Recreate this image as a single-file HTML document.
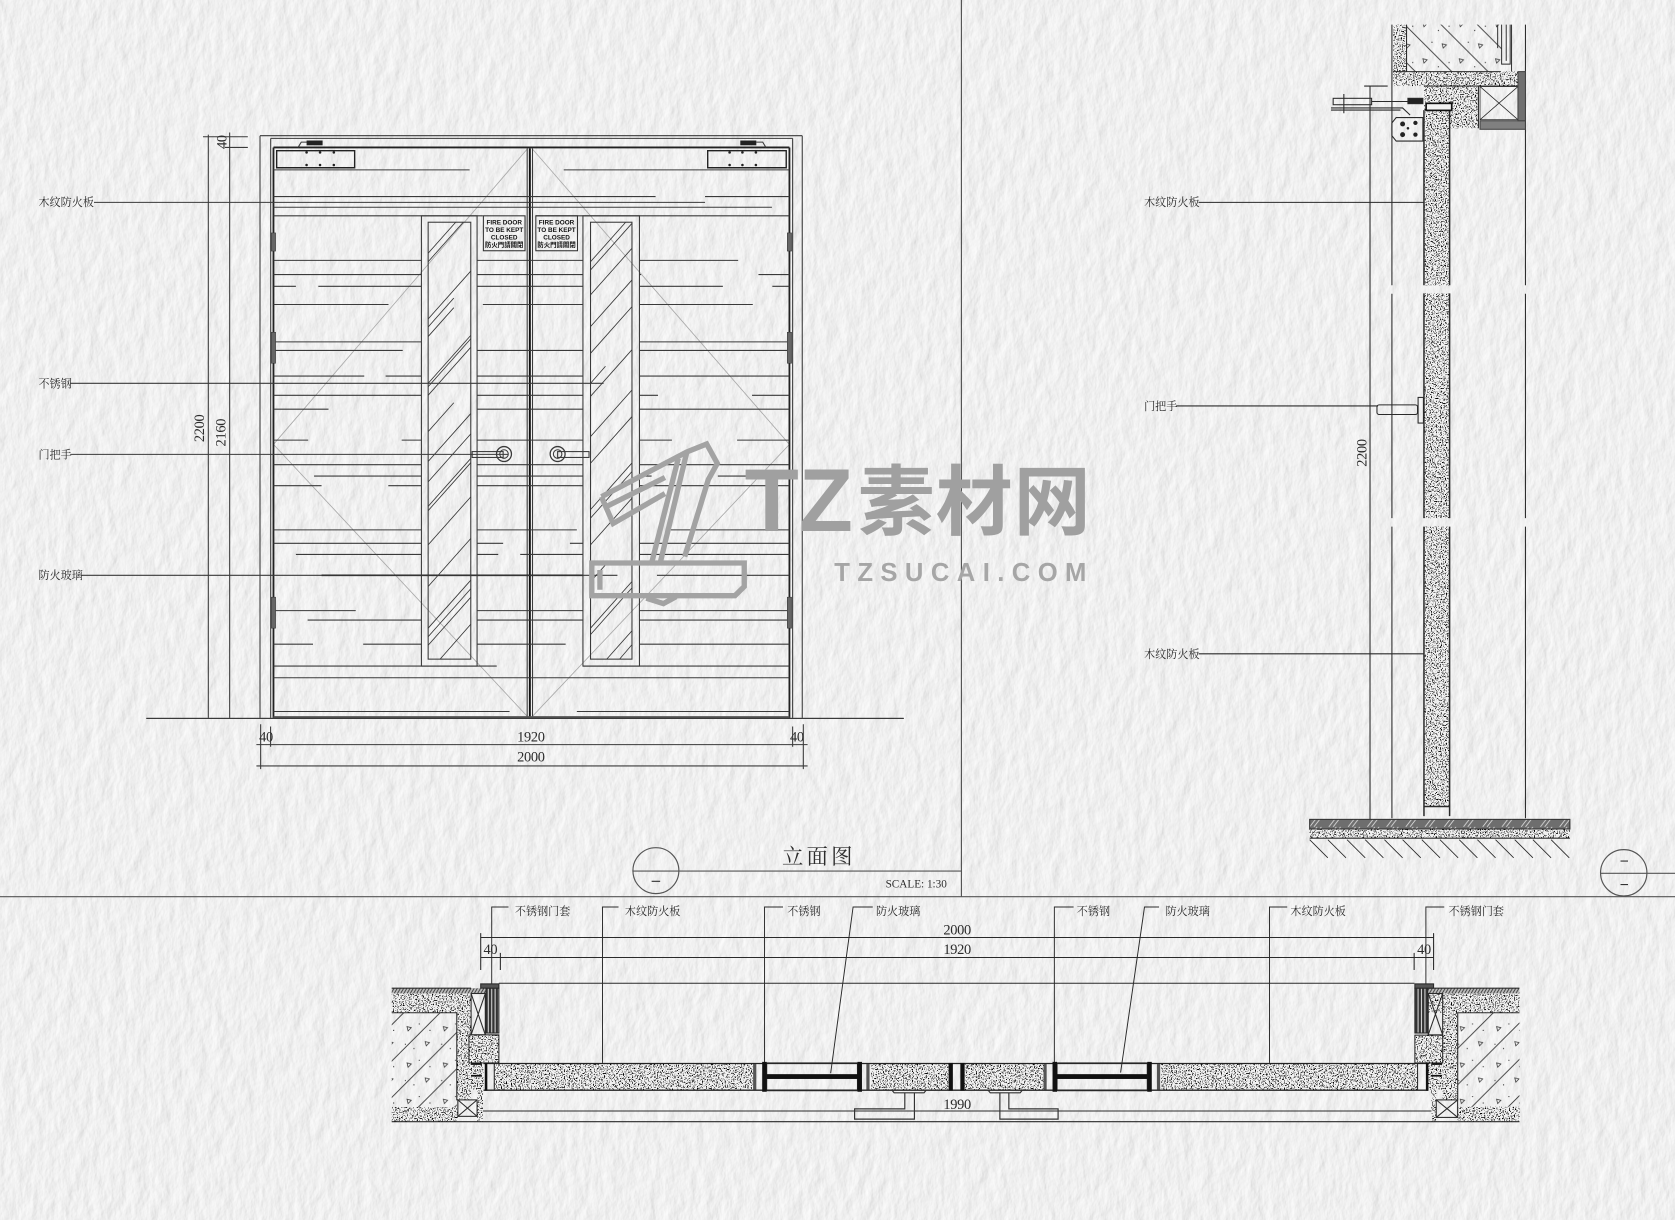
<!DOCTYPE html>
<html><head><meta charset="utf-8"><title>立面图</title>
<style>
html,body{margin:0;padding:0;background:#eee}
svg{display:block}
text{font-family:"Liberation Serif","Noto Serif CJK SC",serif;fill:#2c2c2c}
.n{font-size:13.5px;text-anchor:middle;letter-spacing:-.3px}
.l{font-size:10.4px}
</style></head><body>
<svg xmlns="http://www.w3.org/2000/svg" width="1675" height="1220" viewBox="0 0 1568 1142">
<defs>
<filter id="paper" x="0" y="0" width="100%" height="100%" color-interpolation-filters="sRGB">
<feTurbulence type="fractalNoise" baseFrequency="0.09 0.05" numOctaves="4" seed="7"/>
<feDiffuseLighting surfaceScale="0.55" lighting-color="#ffffff"><feDistantLight azimuth="20" elevation="70"/></feDiffuseLighting>
</filter>
<filter id="speck" filterUnits="userSpaceOnUse" x="0" y="0" width="1568" height="1142" color-interpolation-filters="sRGB">
<feTurbulence type="fractalNoise" baseFrequency="0.85" numOctaves="2" seed="4"/>
<feColorMatrix values="0 0 0 0 0 0 0 0 0 0 0 0 0 0 0 13 0 0 0 -7.3" result="n"/>
<feComposite in="n" in2="SourceAlpha" operator="in" result="s"/>
<feMerge><feMergeNode in="SourceGraphic"/><feMergeNode in="s"/></feMerge>
</filter>
<pattern id="cA" width="34" height="34" patternUnits="userSpaceOnUse">
<path d="M0 34L34 0M-17 17L17 -17M17 51L51 17" stroke="#333" stroke-width=".8"/>
<path d="M7 9l4 1-3 3zM24 23l4 1-3 3z" fill="none" stroke="#333" stroke-width=".7"/>
<path d="M18 6h1v1h-1zM28 12h1v1h-1zM5 25h1v1h-1zM13 29h1v1h-1z" fill="#333"/>
</pattern>
<pattern id="cB" width="34" height="34" patternUnits="userSpaceOnUse">
<path d="M0 0L34 34M-17 17L17 51M17 -17L51 17" stroke="#333" stroke-width=".8"/>
<path d="M24 7l4 1-3 3zM6 21l4 1-3 3z" fill="none" stroke="#333" stroke-width=".7"/>
<path d="M14 5h1v1h-1zM30 24h1v1h-1zM20 28h1v1h-1z" fill="#333"/>
</pattern>
<pattern id="flr" width="18" height="9" patternUnits="userSpaceOnUse">
<rect width="18" height="9" fill="#6e6e6e"/>
<path d="M2 9L9 0M6 9L13 0" stroke="#ddd" stroke-width=".8"/>
</pattern>
<pattern id="str" width="3.2" height="10" patternUnits="userSpaceOnUse">
<rect width="3.2" height="10" fill="#d8d8d8"/><rect width="2.2" height="10" fill="#333"/>
</pattern>
<pattern id="tp" width="3" height="5" patternUnits="userSpaceOnUse">
<rect width="3" height="5" fill="#bbb"/><path d="M0 5L3 0" stroke="#333" stroke-width=".8"/>
</pattern>
<clipPath id="wL"><rect x="400.8" y="208" width="39.9" height="409"/></clipPath>
<clipPath id="wR"><rect x="552.8" y="208" width="38.8" height="409"/></clipPath>
</defs>

<rect width="1568" height="1142" filter="url(#paper)"/>

<!-- ===== frame lines ===== -->
<g stroke="#555" stroke-width="1.1" fill="none">
<path d="M900 0V839M0 839.4H1568"/>
<circle cx="614" cy="815" r="21.5"/><path d="M592 815.4H900"/>
<circle cx="1520" cy="817" r="21.7"/><path d="M1498 817.5H1568"/>
<path d="M610 825h8M1517 806h7M1517 828h7" stroke="#333"/>
</g>
<text x="732" y="809" style="font-size:20px;letter-spacing:3px">立面图</text>
<text x="829" y="831" style="font-size:10.5px">SCALE: 1:30</text>

<!-- ===== Elevation ===== -->
<g fill="none" stroke="#3a3a3a" stroke-width="1">
<!-- diamonds -->
<path d="M494 139L256 416L494 671M498 139L739 416L498 671" stroke="#aaa" stroke-width=".8"/>
<!-- frame -->
<path d="M243.4 127V672M253.4 129.5V672M742 129.5V672M751 127V672M243.4 127H751M253.4 129.5H742"/>
<path d="M256 138V672M739 138V672M256 138H739" stroke="#222" stroke-width="1.7"/>
<path d="M493.5 139V671M498.5 139V671"/>
<path d="M496 139V671" stroke="#111" stroke-width="1.8"/>
<path d="M256 671.5H739" stroke="#555" stroke-width="2.2"/>
<path d="M137 672.5H846"/>
<!-- closers -->
<path d="M259 141H332V157H259ZM662.5 141H736V157H662.5Z" stroke="#222" stroke-width="1.3"/>
<path d="M256 159H439.6M527.7 159H739"/>
<path d="M279 138l3-5h6M717 138l-3-5h-6"/>
<!-- grain lines -->
<path d="M256 184H613.7M660 184H739M256 194H722.6M256 202H452M501.6 202H739
M256 243.7H394.5M446.6 243.7H545.7M598.6 243.7H691
M256 257H394.5M446.6 257H545.7M710 257H739M598.6 257H600
M256 268H277M298 268H394.5M446.6 268H545.7M598.6 268H676.7M723 268H739
M256 285H363.7M452 285H545.7M598.6 285H704.7
M256 320H394.5M598.6 320H739
M256 328H377M446.6 328H545.7M598.6 328H739
M256 352H341M361 352H394.5M446.6 352H545.7M598.6 352H739
M256 370H394.5M446.6 370H545.7M598.6 370H616M704 370H739
M256 383H307.5M446.6 383H545.7M598.6 383H739
M256 412H288.5M376 412H394.5M446.6 412H545.7M598.6 412H629M690 412H739
M256 435H394.5M446.6 435H545.7M598.6 435H739
M294 445.6H394.5M446.6 445.6H545.7M598.6 445.6H610M672 445.6H739
M256 454.6H301M363.5 454.6H394.5M446.6 454.6H545.7M598.6 454.6H739
M256 496H394.5M446.6 496H540M628 496H739
M256 508.6H394.5M446.6 508.6H471M533.5 508.6H545.7M598.6 508.6H739
M277 519H394.5M446.6 519H466.4M487 519H545.7M598.6 519H739
M615 538.5H739
M256 571.6H333M446.6 571.6H545.7M598.6 571.6H739
M288 580.4H394.5M446.6 580.4H545.7M598.6 580.4H739
M256 603H293M340 603H394.5M446.6 603H529.5M598.6 603H739
M256 623.5H465M545.7 623.5H739
M256 634.4H739
M256 666H477M540 666H739"/>
<path d="M301 538.5H545.7" stroke="#111" stroke-width="1.5"/>
<!-- windows -->
<rect x="394.5" y="202" width="52.1" height="421.5"/>
<rect x="400.8" y="208" width="39.9" height="409"/>
<rect x="545.7" y="202" width="52.9" height="421.5"/>
<rect x="552.8" y="208" width="38.8" height="409"/>
<g stroke-width=".8">
<g clip-path="url(#wL)"><path d="M400.8 237l40-45M400.8 245l40-45M400.8 298.6l40-45M400.8 306l24-27M400.8 315l24-27M400.8 358.8l40-45M400.8 362l40-45M400.8 370l40-45M400.8 404l24-27M400.8 432l40-45M400.8 451l40-45M400.8 474l40-45M400.8 478l40-45M400.8 510l40-45M400.8 549l40-45M400.8 588l40-45M400.8 596l40-45M400.8 604l40-45M412 617l29-33"/></g>
<g clip-path="url(#wR)"><path d="M552.8 245l40-45M552.8 252.7l40-45M552.8 276l40-45M552.8 305.7l40-45M552.8 330.7l40-45M552.8 358.8l14-16M552.8 371l40-45M552.8 408.7l40-45M552.8 433.6l40-45M552.8 477l40-45M552.8 485l40-45M552.8 510l40-45M552.8 544.5l16-18M552.8 588l40-45M552.8 594l40-45M568 617l24-27M580 617l12-14"/></g>
</g>
<!-- handles -->
<rect x="442" y="422.7" width="29" height="5.5"/>
<circle cx="471.8" cy="425" r="7" stroke-width="1.2"/><circle cx="471.8" cy="425" r="4"/>
<rect x="522" y="422.7" width="29.4" height="5.5"/>
<circle cx="522" cy="425" r="7" stroke-width="1.2"/><circle cx="522" cy="425" r="4"/>
<!-- leaders -->
<path d="M88 189.4H660M66 358.8H565M66 425.3H476M76 538.5H578"/>
<!-- dims -->
<path d="M195 126V672M215 124V672M190 128H232M210.6 138H232"/>
<path d="M137 672.5H846M244 678V720M253.3 680V699M742 680V699M752 678V720M240 697H756M240 717H756"/>
</g>
<g fill="#222">
<rect x="287" y="131.5" width="15" height="4.5"/><rect x="693" y="131.5" width="15" height="4.5"/>
<circle cx="287" cy="142.6" r="1.2"/><circle cx="299.6" cy="142.6" r="1.2"/><circle cx="312.5" cy="142.6" r="1.2"/>
<circle cx="287" cy="154.4" r="1.2"/><circle cx="299.6" cy="154.4" r="1.2"/><circle cx="312.5" cy="154.4" r="1.2"/>
<circle cx="683" cy="142.6" r="1.2"/><circle cx="695" cy="142.6" r="1.2"/><circle cx="707.6" cy="142.6" r="1.2"/>
<circle cx="683" cy="154.4" r="1.2"/><circle cx="695" cy="154.4" r="1.2"/><circle cx="707.6" cy="154.4" r="1.2"/>
</g>
<g fill="#666" stroke="#333" stroke-width=".5">
<rect x="254" y="218" width="4" height="17"/><rect x="254" y="311" width="4" height="29"/><rect x="254" y="559" width="4" height="29"/>
<rect x="737" y="218" width="4" height="17"/><rect x="737" y="311" width="4" height="29"/><rect x="737" y="559" width="4" height="29"/>
</g>
<!-- signs -->
<g fill="none" stroke="#333"><rect x="452.5" y="202" width="39" height="32.7"/><rect x="501.6" y="202" width="39" height="32.7"/></g>
<g style="font-weight:bold">
<g text-anchor="middle" style="font-size:6px;font-weight:bold">
<text x="472" y="210" style="font-family:'Liberation Sans',sans-serif;fill:#111">FIRE DOOR</text>
<text x="472" y="217" style="font-family:'Liberation Sans',sans-serif;fill:#111">TO BE KEPT</text>
<text x="472" y="224" style="font-family:'Liberation Sans',sans-serif;fill:#111">CLOSED</text>
<text x="472" y="231" style="font-family:'Liberation Sans','Noto Sans CJK SC',sans-serif;fill:#111">防火門請關閉</text>
<text x="521" y="210" style="font-family:'Liberation Sans',sans-serif;fill:#111">FIRE DOOR</text>
<text x="521" y="217" style="font-family:'Liberation Sans',sans-serif;fill:#111">TO BE KEPT</text>
<text x="521" y="224" style="font-family:'Liberation Sans',sans-serif;fill:#111">CLOSED</text>
<text x="521" y="231" style="font-family:'Liberation Sans','Noto Sans CJK SC',sans-serif;fill:#111">防火門請關閉</text>
</g></g>
<!-- elevation labels -->
<text class="l" x="36" y="193">木纹防火板</text>
<text class="l" x="36" y="362.5">不锈钢</text>
<text class="l" x="36" y="429">门把手</text>
<text class="l" x="36" y="542">防火玻璃</text>
<text class="n" transform="translate(191,401) rotate(-90)">2200</text>
<text class="n" transform="translate(211,405) rotate(-90)">2160</text>
<text class="n" transform="translate(212,133) rotate(-90)">40</text>
<text class="n" x="249" y="694">40</text>
<text class="n" x="497" y="694">1920</text>
<text class="n" x="746" y="694">40</text>
<text class="n" x="497" y="713">2000</text>

<!-- ===== Side section ===== -->
<g filter="url(#speck)" fill="#f1f1f1">
<rect x="1304" y="23" width="12.7" height="44"/>
<rect x="1304" y="67" width="117" height="13.5"/>
<rect x="1333" y="80.5" width="51" height="39.5"/>
<rect x="1333" y="103" width="24" height="164"/>
<rect x="1333" y="274.6" width="24" height="210.4"/>
<rect x="1333" y="493" width="24" height="262"/>
<rect x="1226" y="776" width="243.6" height="8.6"/>
<!-- plan speck -->
<rect x="366.7" y="930" width="74" height="18"/>
<rect x="427.6" y="948" width="13.4" height="82"/>
<rect x="366.7" y="1036.4" width="62" height="13.6"/>
<rect x="446.6" y="1020" width="5.4" height="30"/>
<rect x="439" y="968.7" width="28" height="26.3"/>
<rect x="439" y="995" width="13.6" height="25"/>
<rect x="462.7" y="996" width="242.3" height="24"/>
<rect x="815.4" y="996" width="72.6" height="24"/>
<rect x="903" y="996" width="74" height="24"/>
<rect x="1087" y="996" width="240" height="24"/>
<rect x="1324.5" y="969" width="26" height="26"/>
<rect x="1337" y="995" width="13.5" height="25"/>
<rect x="1336" y="930" width="86.4" height="18"/>
<rect x="1350.5" y="948" width="14.1" height="82"/>
<rect x="1364.6" y="1036" width="57.8" height="14"/>
<rect x="1340" y="1020" width="4.5" height="30"/>
</g>
<g fill="none" stroke="#2a2a2a" stroke-width="1">
<rect x="1316.7" y="23" width="89" height="44" fill="url(#cB)" stroke="none"/>
<rect x="366.7" y="948" width="60.9" height="88.4" fill="url(#cA)" stroke="none"/>
<rect x="1364.6" y="948" width="57.8" height="88" fill="url(#cA)" stroke="none"/>
<path d="M1303 23V267M1303 275V485M1303 493V766M1428 23V267M1428 275V485M1428 493V766M1282.5 80.5V767M1277 80.5H1299"/>
<path d="M1333 103V267M1357 103V267M1333 274.6V485M1357 274.6V485M1333 493V764M1357 493V764M1333 755H1357" stroke-width="1.4"/>
<path d="M1333 80.5H1421M1304 67H1405M1384 80.5V120M1316.7 23V67"/>
<rect x="1385.5" y="81" width="35.5" height="31" stroke-width=".7"/><path d="M1385.5 81L1421 112M1421 81L1385.5 112" stroke-width=".7"/>
<rect x="1385.5" y="113" width="42.5" height="8" fill="#808080" stroke="#444"/>
<rect x="1421" y="67" width="7" height="46" fill="#707070" stroke="#444"/>
<rect x="1335" y="96.7" width="24" height="6.6" fill="#f2f2f2" stroke="#111" stroke-width="1.6"/>
<path d="M1405.7 23V60h8V23M1410 23V57M1415 23V67M1402 23V45" stroke-width=".9"/>
<rect x="1248" y="92" width="36" height="6" /><path d="M1284 95H1327M1246 101H1313L1320 107.6M1246 103H1311M1258 88V106"/>
<rect x="1318" y="92" width="14" height="5" fill="#222"/>
<path d="M1307 110h25v22h-25l-4-5v-12z"/>
<g fill="#222" stroke="none"><circle cx="1313" cy="116" r="2.3"/><circle cx="1313" cy="126" r="2.3"/><circle cx="1325" cy="115" r="2"/><circle cx="1325" cy="126" r="2"/><circle cx="1318" cy="120" r="1.2"/></g>
<!-- leaders -->
<path d="M1122 189.4H1333M1101 380H1290M1122 612H1333"/>
<rect x="1289" y="379" width="38" height="9" rx="2"/><rect x="1327.5" y="372" width="5" height="24"/>
<!-- floor -->
<rect x="1226" y="767" width="243.6" height="9" fill="url(#flr)" stroke="#333"/>
<path d="M1226 784.6H1469.6"/>
<path d="M1226 786L1243 803M1243 786L1260 803M1261 786L1278 803M1278 786L1295 803M1296 786L1313 803M1313 786L1330 803M1331 786L1348 803M1348 786L1365 803M1366 786L1383 803M1383 786L1400 803M1400 786L1417 803M1418 786L1435 803M1435 786L1452 803M1452 786L1469 803" stroke-width=".8"/>
</g>
<text class="l" x="1071" y="193">木纹防火板</text>
<text class="l" x="1071" y="384">门把手</text>
<text class="l" x="1071" y="616">木纹防火板</text>
<text class="n" transform="translate(1279,424) rotate(-90)">2200</text>

<!-- ===== Plan ===== -->
<g fill="none" stroke="#2a2a2a" stroke-width="1">
<!-- leaders -->
<path d="M476 849H460.3V921M579 849H564V995M733 849H715.7V995M817 849H798.6L777.6 1004.6M1005 849H987V995M1085 849H1071.4L1049 1004M1205 849H1188.4V995M1352 849H1334.8V921" stroke-width=".9"/>
<!-- dims -->
<path d="M450 877.6H1342M450 896.3H1342M467 920.4H1324M450 873.5V908M468.4 892V908M1323.8 892V908M1342 873.5V908"/>
<path d="M452 1040H1340M366.7 1050H1422.4"/>
<!-- wall details -->
<rect x="366.7" y="925" width="88" height="5" fill="url(#tp)" stroke="none"/>
<rect x="1336" y="925" width="86.4" height="5" fill="url(#tp)" stroke="none"/>
<path d="M366.7 948H427.6V1030M1422.4 948H1364.6V1030M366.7 925H441M1336 925H1422.4"/>
<rect x="428.6" y="1029.6" width="18" height="15.4"/><path d="M428.6 1029.6L446.6 1045M446.6 1029.6L428.6 1045"/>
<rect x="1344.5" y="1029.6" width="20" height="16.4"/><path d="M1344.5 1029.6L1364.6 1046M1364.6 1029.6L1344.5 1046"/>
<rect x="441" y="930" width="13.3" height="38.7"/><path d="M441 930L454.3 968.7M454.3 930L441 968.7"/>
<rect x="1337" y="930" width="13.5" height="38.7"/><path d="M1337 930L1350.5 968.7M1350.5 930L1337 968.7"/>
<rect x="455" y="925" width="12" height="42" fill="url(#str)"/><rect x="450" y="921" width="17" height="4" fill="#555"/>
<rect x="1324.5" y="925" width="12" height="42" fill="url(#str)"/><rect x="1324.5" y="921" width="17.5" height="4" fill="#555"/>
<rect x="439" y="968.7" width="28" height="26.3"/><rect x="1324.5" y="969" width="26" height="26"/>
<path d="M441 996h10M441 1007h10M1340 996h10M1340 1007h10" stroke="#111" stroke-width="1.6"/>
<!-- door panels -->
<path d="M452.6 995.5H1337M452.6 1020.5H1337" stroke="#222" stroke-width="1.2"/>
<path d="M455 995V1021M1336 995V1021" stroke="#111" stroke-width="2.4"/>
<path d="M462.7 996V1020M1327 996V1020"/>
<!-- glass -->
<rect x="717.7" y="995" width="85" height="26"/><rect x="989.5" y="995" width="84.5" height="26"/>
</g>
<g fill="#111">
<rect x="717.7" y="1005.5" width="85" height="4.5"/><rect x="989.5" y="1005.5" width="84.5" height="4.5"/>
<rect x="705" y="996" width="3" height="24" fill="#555"/><rect x="713.5" y="994" width="4.2" height="28"/>
<rect x="802.7" y="994" width="4.2" height="28"/><rect x="811" y="996" width="3" height="24" fill="#555"/>
<rect x="976.8" y="996" width="3" height="24" fill="#555"/><rect x="985.3" y="994" width="4.2" height="28"/>
<rect x="1074" y="994" width="4.2" height="28"/><rect x="1083" y="996" width="3" height="24" fill="#555"/>
<rect x="888" y="995" width="4" height="26"/><rect x="899" y="995" width="4" height="26"/>
</g>
<!-- plan handles -->
<g fill="none" stroke="#333" stroke-width="1.1">
<path d="M800 1038H847V1023H856V1047.6H800ZM835 1020.5l2 2.5H865l2-2.5"/>
<path d="M990.5 1038H944.4V1023H936V1047.6H990.5ZM925 1020.5l2 2.5H955l2-2.5"/>
</g>
<g class="labels">
<text class="l" x="482" y="856.5">不锈钢门套</text>
<text class="l" x="585" y="856.5">木纹防火板</text>
<text class="l" x="737" y="856.5">不锈钢</text>
<text class="l" x="820" y="856.5">防火玻璃</text>
<text class="l" x="1008" y="856.5">不锈钢</text>
<text class="l" x="1091" y="856.5">防火玻璃</text>
<text class="l" x="1208" y="856.5">木纹防火板</text>
<text class="l" x="1356" y="856.5">不锈钢门套</text>
</g>
<text class="n" x="896" y="875">2000</text>
<text class="n" x="896" y="893">1920</text>
<text class="n" x="459" y="893">40</text>
<text class="n" x="1333" y="893">40</text>
<text class="n" x="896" y="1038">1990</text>

<!-- ===== Watermark ===== -->
<g>
<g fill="none" stroke="#a3a3a3" stroke-width="5" stroke-linejoin="miter">
<path d="M563 465L643 423L661.5 415.6L671.5 433.7L663 449L641 521M635 429L610 527M643 423L618 527M622.5 462L574 490L563 465M568 474L622.5 447"/>
<path d="M554 527H696.7V549L688 557.6H554ZM561.6 533.5V552"/>
<path d="M605 560L621 565L633 558.5"/>
</g>
<text x="697" y="497" style="font-family:'Liberation Sans',sans-serif;font-weight:bold;font-size:83px;fill:#a0a0a0">TZ</text>
<text x="803" y="495" style="font-family:'Liberation Sans','Noto Sans CJK SC',sans-serif;font-weight:bold;font-size:72px;letter-spacing:1px;fill:#a0a0a0">素材网</text>
<text x="781" y="544" textLength="236" lengthAdjust="spacing" style="font-family:'Liberation Sans',sans-serif;font-weight:bold;font-size:24px;fill:#a6a6a6">TZSUCAI.COM</text>
</g>
</svg>
</body></html>
